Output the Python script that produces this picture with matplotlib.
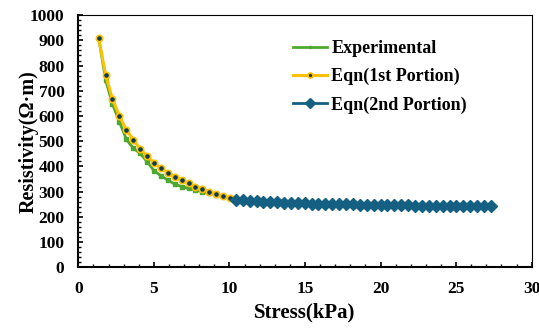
import matplotlib
matplotlib.use('Agg')
import matplotlib.pyplot as plt
from matplotlib.ticker import MultipleLocator

plt.rcParams['font.family'] = ['Liberation Serif', 'DejaVu Serif']
plt.rcParams['font.weight'] = 'bold'

# --- datos ---
stress_exp = [1.35, 1.81, 2.26, 2.72, 3.18, 3.64, 4.09, 4.55, 5.01, 5.47,
              5.92, 6.38, 6.84, 7.30, 7.75, 8.21, 8.67, 9.13, 9.58, 10.04]
res_exp = [908, 742, 647, 577, 507, 472, 452, 419, 383, 363,
           346, 330, 320, 313, 306, 300, 293, 288, 282, 274]

stress_eq1 = [1.35, 1.81, 2.26, 2.72, 3.18, 3.64, 4.09, 4.55, 5.01, 5.47,
              5.92, 6.38, 6.84, 7.30, 7.75, 8.21, 8.67, 9.13, 9.58, 10.04]
res_eq1 = [908, 762, 667, 600, 545, 505, 470, 441, 415, 392,
           375, 359, 345, 333, 320, 309, 300, 290, 281, 273]

stress_eq2 = [10.42, 10.88, 11.33, 11.79, 12.24, 12.70, 13.16, 13.61, 14.07, 14.52,
              14.98, 15.44, 15.89, 16.35, 16.80, 17.26, 17.72, 18.17, 18.63, 19.08,
              19.54, 20.00, 20.45, 20.91, 21.36, 21.82, 22.28, 22.73, 23.19, 23.64,
              24.10, 24.56, 25.01, 25.47, 25.92, 26.38, 26.84, 27.29]
res_eq2 = [267, 265, 263, 262, 260, 259, 258, 257, 256, 255,
           254, 253, 252.5, 252, 251, 250.5, 250, 249.5, 249, 248.5,
           248, 247.5, 247, 246.5, 246, 245.5, 245, 244.8, 244.5, 244.2,
           244, 243.7, 243.4, 243, 242.7, 242.4, 242.1, 241.8]

verde = '#4EA72E'
amarillo = '#FFC000'
azul = '#156082'

fig = plt.figure(figsize=(5.39, 3.29), dpi=100)
ax = fig.add_axes([0.1453, 0.1875, 0.8412, 0.7665])

ax.plot(stress_exp, res_exp, color=verde, linewidth=2, marker='s', markersize=2.5,
        label='Experimental', zorder=2)
ax.plot(stress_eq1, res_eq1, color=amarillo, linewidth=2.2, marker='o', markersize=4.5,
        markerfacecolor='#0E3A5A', markeredgecolor=amarillo, markeredgewidth=1.2,
        label='Eqn(1st Portion)', zorder=3)
ax.plot(stress_eq2, res_eq2, color=azul, linewidth=2, marker='D', markersize=6,
        markeredgecolor=azul, label='Eqn(2nd Portion)', zorder=4)

ax.set_xlim(0, 30)
ax.set_ylim(0, 1000)
ax.xaxis.set_major_locator(MultipleLocator(5))
ax.xaxis.set_minor_locator(MultipleLocator(1))
ax.yaxis.set_major_locator(MultipleLocator(100))
ax.yaxis.set_minor_locator(MultipleLocator(20))
ax.tick_params(which='major', direction='in', length=3.5, width=1.2, labelsize=12.5, pad=10)
ax.tick_params(which='minor', direction='in', length=2, width=1)

for s in ['left', 'bottom']:
    ax.spines[s].set_linewidth(1.5)
for s in ['top', 'right']:
    ax.spines[s].set_linewidth(0.8)

ax.set_xlabel('Stress(kPa)', fontsize=15, fontweight='bold', labelpad=4)
ax.set_ylabel('Resistivity(\u03a9\u00b7m)', fontsize=14.5, fontweight='bold', labelpad=0)
ax.yaxis.set_label_coords(-0.087, 0.5)

ax.legend(loc='upper left', bbox_to_anchor=(0.5126, 0.927), bbox_transform=fig.transFigure,
          frameon=False, handlelength=1.9, handletextpad=0.25, markerscale=0.8,
          labelspacing=0.6, prop={'weight': 'bold', 'size': 13})

fig.savefig('out.png', dpi=100)
